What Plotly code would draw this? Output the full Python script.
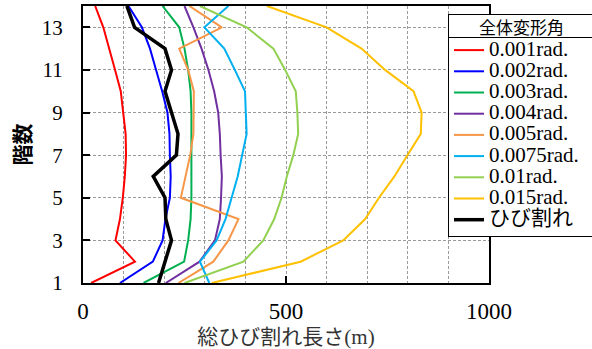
import plotly.graph_objects as go

floors = list(range(1, 15))

series_names = ["0.001rad.", "0.002rad.", "0.003rad.", "0.004rad.", "0.005rad.",
                "0.0075rad.", "0.01rad.", "0.015rad.", "ひび割れ"]
legend_title = "全体変形角"

v0001 = [20, 128, 80, 91, 98, 103, 106, 105, 99, 93, 79, 65, 50, 30]
v0002 = [91, 172, 196, 203, 214, 216, 214, 213, 208, 195, 180, 165, 145, 112]
v0003 = [149, 249, 259, 265, 267, 267, 268, 268, 267, 265, 259, 250, 237, 196]
v0004 = [204, 287, 325, 337, 340, 342, 339, 337, 333, 323, 309, 292, 272, 250]
v0005 = [235, 321, 358, 383, 241, 253, 264, 272, 273, 273, 259, 237, 342, 262]
v00075 = [311, 288, 329, 351, 366, 381, 392, 403, 401, 399, 374, 348, 299, 358]
v001 = [250, 395, 444, 471, 489, 502, 518, 530, 528, 524, 498, 469, 403, 288]
v0015 = [317, 536, 641, 695, 729, 767, 799, 832, 834, 814, 744, 686, 600, 453]
crack = [186, 202, 218, 204, 202, 173, 230, 234, 218, 202, 218, 202, 127, 108]

series_values = [v0001, v0002, v0003, v0004, v0005, v00075, v001, v0015, crack]
series_colors = ["#FF0000", "#0000FF", "#00B050", "#7030A0", "#F79646",
                 "#00B0F0", "#92D050", "#FFC000", "#000000"]
series_widths = [2, 2, 2, 2, 2, 2, 2, 2, 3.5]

x_ticks = [0, 500, 1000]
y_ticks = [1, 3, 5, 7, 9, 11, 13]

SERIF = "Liberation Serif"
MIXED = "Liberation Serif, Noto Sans CJK JP"
CJK = "Noto Sans CJK JP"
GRID = "#9A9A9A"
DASH = "3px,2px"

fig = go.Figure()
for name, vals, col, w in zip(series_names, series_values, series_colors, series_widths):
    fig.add_trace(go.Scatter(
        x=vals, y=floors, mode="lines",
        line=dict(color=col, width=w),
        name=f'<span style="font-size:21px">{name}</span>' + "\u00a0" * 6,
    ))

W, H = 592, 349
L, R, T, B = 83, 103, 6, 66
pw, ph = W - L - R, H - T - B

def px2paper_x(px):
    return (px - L) / pw

def py2paper_y(py):
    return (H - B - py) / ph

fig.update_layout(
    width=W, height=H,
    margin=dict(l=L, r=R, t=T, b=B, autoexpand=False),
    paper_bgcolor="white", plot_bgcolor="white",
    showlegend=True,
    legend=dict(
        x=px2paper_x(448), y=py2paper_y(14), xanchor="left", yanchor="top",
        bgcolor="white", bordercolor="black", borderwidth=1,
        font=dict(family=MIXED, size=14, color="black"),
        title=dict(text="\u00a0", side="top",
                   font=dict(family=CJK, size=15, color="black")),
        tracegroupgap=0,
    ),
    annotations=[dict(
        text=legend_title, xref="paper", yref="paper",
        x=px2paper_x(448), y=py2paper_y(14), xanchor="left", yanchor="top",
        width=145, height=22, align="center", valign="middle",
        showarrow=False, bgcolor="white", bordercolor="black", borderwidth=1,
        borderpad=0, font=dict(family=CJK, size=17, color="black"),
    )],
    xaxis=dict(
        range=[0, 1000], tickvals=x_ticks, ticktext=[str(v) for v in x_ticks],
        automargin=False,
        showline=True, linecolor="black", linewidth=2, mirror=True,
        ticks="inside", ticklen=7, tickwidth=2, tickcolor="black",
        showgrid=True, gridcolor=GRID, gridwidth=1, griddash=DASH,
        minor=dict(dtick=100, showgrid=True, gridcolor=GRID, gridwidth=1,
                   griddash=DASH, ticks=""),
        tickfont=dict(family=SERIF, size=23, color="black"),
        ticklabelstandoff=6,
        zeroline=False,
        title=dict(text="総ひび割れ長さ(m)", standoff=10,
                   font=dict(family=MIXED, size=21, color="#333333")),
    ),
    yaxis=dict(
        range=[1, 14], tickvals=y_ticks,
        automargin=False,
        showline=True, linecolor="black", linewidth=2, mirror=True,
        ticks="inside", ticklen=7, tickwidth=2, tickcolor="black",
        showgrid=True, gridcolor=GRID, gridwidth=1, griddash=DASH,
        tickfont=dict(family=SERIF, size=21, color="black"),
        ticklabelstandoff=14,
        zeroline=False,
        title=dict(text="<b>階数</b>", standoff=5,
                   font=dict(family=CJK, size=21, color="black")),
    ),
)

fig.write_html("out.html", config={"displayModeBar": False},
               post_script="document.body.style.margin='0';")
